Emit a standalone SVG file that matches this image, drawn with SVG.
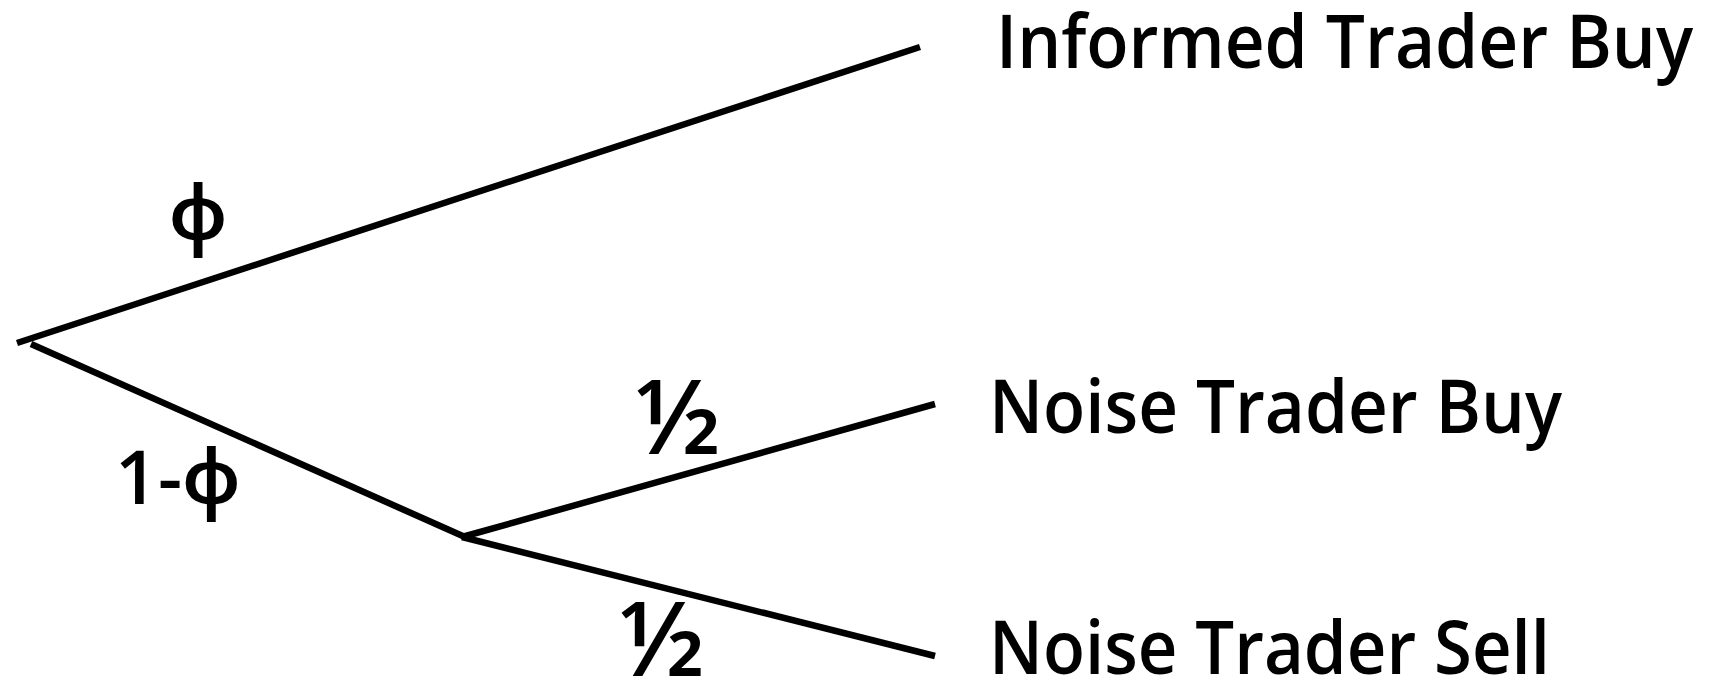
<svg xmlns="http://www.w3.org/2000/svg" width="1709" height="679" viewBox="0 0 1709 679">
<style>
.edge{stroke:#000;stroke-width:6.5;fill:none;stroke-linecap:butt}
.lbl{font-family:"Open Sans","Noto Sans",sans-serif;font-size:75px;font-weight:600;fill:#000}
.frac{font-family:"Open Sans","Noto Sans",sans-serif;font-size:104px;font-weight:600;fill:#000}
</style>
<rect width="1709" height="679" fill="#fff"/>
<g id="connectors">
<line class="edge" x1="17" y1="343" x2="920" y2="47"/>
<line class="edge" x1="31" y1="344" x2="465" y2="537"/>
<line class="edge" x1="462" y1="537" x2="935" y2="404"/>
<line class="edge" x1="462" y1="537" x2="935" y2="656"/>
<text class="lbl" x="198" y="240" text-anchor="middle">ϕ</text>
<text class="lbl" x="115" y="504">1-ϕ</text>
<text class="frac" x="678" y="454" text-anchor="middle">½</text>
<text class="frac" x="662" y="676" text-anchor="middle">½</text>
</g>
<g id="node-informed-buy">
<text class="lbl" x="996" y="68" textLength="697" lengthAdjust="spacingAndGlyphs">Informed Trader Buy</text>
</g>
<g id="node-noise-buy">
<text class="lbl" x="989" y="433" textLength="573" lengthAdjust="spacingAndGlyphs">Noise Trader Buy</text>
</g>
<g id="node-noise-sell">
<text class="lbl" x="989" y="674" textLength="561" lengthAdjust="spacingAndGlyphs">Noise Trader Sell</text>
</g>
</svg>
